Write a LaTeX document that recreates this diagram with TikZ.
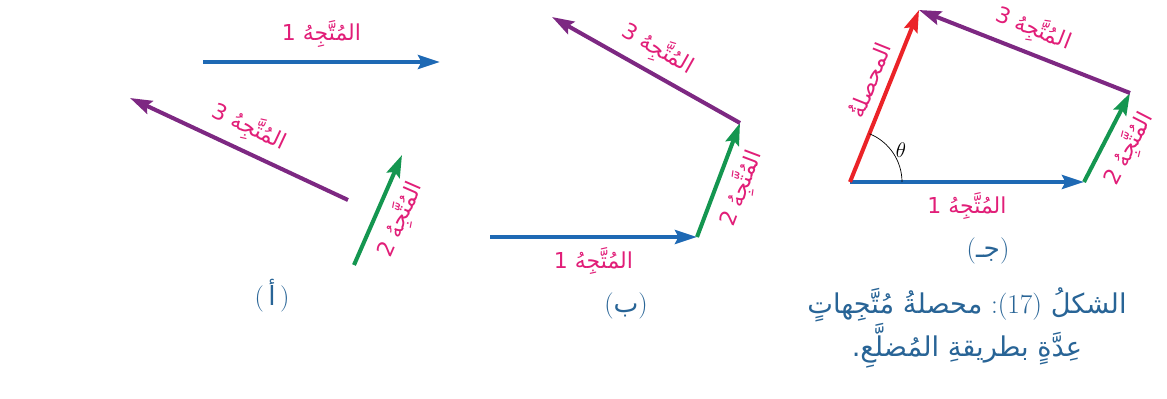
\documentclass[tikz,border=0pt]{standalone}
\usepackage{fontspec}
\newfontfamily\arabicfont[Script=Arabic]{DejaVu Sans}
\TeXXeTstate=1
\usetikzlibrary{arrows.meta}
\definecolor{vecblue}{RGB}{30,105,180}
\definecolor{vecgreen}{RGB}{20,150,80}
\definecolor{vecpurple}{RGB}{125,40,130}
\definecolor{vecred}{RGB}{235,35,40}
\definecolor{lblpink}{RGB}{225,30,120}
\definecolor{capblue}{RGB}{40,100,150}
\tikzset{
  vec/.style={line width=2.3pt, -{Stealth[length=0.44cm,width=0.28cm,inset=0.07cm]}},
  vecone/.style={vec, draw=vecblue},
  vectwo/.style={vec, draw=vecgreen},
  vecthree/.style={vec, draw=vecpurple},
  vecsum/.style={vec, draw=vecred},
  lbl/.style={font=\arabicfont\fontsize{12.5}{14}\selectfont, text=lblpink, inner sep=3pt},
  panel/.style={font=\fontsize{15}{17}\selectfont, text=capblue, inner sep=0pt},
  caption/.style={font=\arabicfont\fontsize{15.5}{17.6}\selectfont, text=capblue, align=center, inner sep=0pt}
}

\begin{document}
\begin{tikzpicture}[x=0.02cm, y=-0.02cm]
  \useasboundingbox (0,0) rectangle (1167,399);

  % (a) -- the three vectors apart
  \coordinate (a1s) at (203,62);  \coordinate (a1e) at (440,62);
  \coordinate (a3s) at (348,200); \coordinate (a3e) at (130,98);
  \coordinate (a2s) at (354,265); \coordinate (a2e) at (402,155);

  \draw[vecone] (a1s) -- (a1e) node[lbl, midway, above=4pt] (a1lbl) {\beginR المُتَّجِهُ 1\endR};
  \draw[vecthree] (a3s) -- (a3e) node[lbl, midway, sloped, above=2pt] (a3lbl) {\beginR المُتَّجِهُ 3\endR};
  \draw[vectwo] (a2s) -- (a2e) node[lbl, midway, sloped, below=2pt] (a2lbl) {\beginR المُتَّجِهُ 2\endR};
  \node[panel] (acap) at (272,296) {(\,{\arabicfont أ}\,)};

  % (b) -- head to tail
  \coordinate (b1s) at (490,237); \coordinate (b1e) at (697,237);
  \coordinate (b2e) at (740,123); \coordinate (b3e) at (552,17);

  \draw[vecone] (b1s) -- (b1e) node[lbl, midway, below=2pt] (b1lbl) {\beginR المُتَّجِهُ 1\endR};
  \draw[vectwo] (b1e) -- (b2e) node[lbl, midway, sloped, below=2pt] (b2lbl) {\beginR المُتَّجِهُ 2\endR};
  \draw[vecthree] (b2e) -- (b3e) node[lbl, midway, sloped, above=2pt] (b3lbl) {\beginR المُتَّجِهُ 3\endR};
  \node[panel] (bcap) at (626,306) {({\arabicfont ب})};

  % (c) -- closing side is the resultant
  \coordinate (c1s) at (850,182); \coordinate (c1e) at (1084,182);
  \coordinate (c2e) at (1130,93); \coordinate (c3e) at (919,10);

  \draw[vecone] (c1s) -- (c1e) node[lbl, midway, below=2pt] (c1lbl) {\beginR المُتَّجِهُ 1\endR};
  \draw[vectwo] (c1e) -- (c2e) node[lbl, midway, sloped, below=2pt] (c2lbl) {\beginR المُتَّجِهُ 2\endR};
  \draw[vecthree] (c2e) -- (c3e) node[lbl, midway, sloped, above=2pt] (c3lbl) {\beginR المُتَّجِهُ 3\endR};
  \draw[vecsum] (c1s) -- (c3e) node[lbl, pos=0.55, sloped, above=2pt] (sumlbl) {\beginR المحصلةُ\endR};
  \draw[thin] (c1s) ++(52,0) arc[start angle=0, end angle=-68, radius=52];
  \node[font=\fontsize{13}{15}\selectfont] (theta) at (901,150) {$\theta$};
  \node[panel] (ccap) at (988,251) {({\arabicfont جـ})};

  % figure caption
  \node[caption] (figcap) at (967,328)
    {\beginR الشكلُ \beginL{\rmfamily :(17)}\endL{} محصلةُ مُتَّجِهاتٍ\endR\\
     \beginR عِدَّةٍ بطريقةِ المُضلَّعِ.\endR};
\end{tikzpicture}
\end{document}
